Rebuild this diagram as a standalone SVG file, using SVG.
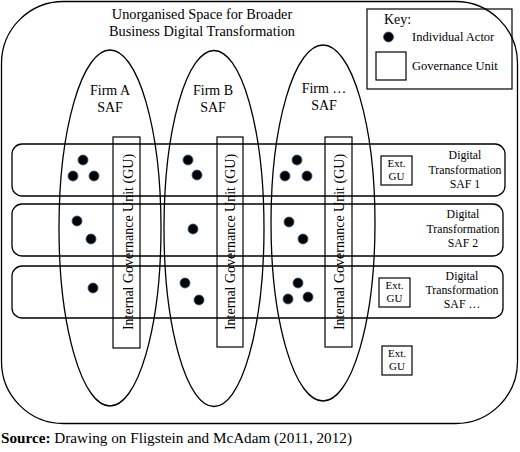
<svg xmlns="http://www.w3.org/2000/svg" width="520" height="452" viewBox="0 0 520 452">
<style>
  .ln{fill:none;stroke:#000;stroke-width:1.3}
  .bx{fill:none;stroke:#000;stroke-width:1.2}
  .t{font-family:"Liberation Serif","Times New Roman",serif;fill:#000}
  .dot{fill:#000;stroke:#2d5f8f;stroke-width:0.8}
</style>
<rect x="0" y="0" width="520" height="452" fill="#fff"/>
<g id="space">
  <rect class="ln" x="1.5" y="1.5" width="516" height="422" rx="62" ry="62"/>
  <text class="t" x="202" y="19" font-size="14.3" text-anchor="middle">Unorganised Space for Broader</text>
  <text class="t" x="202" y="36" font-size="14.3" text-anchor="middle">Business Digital Transformation</text>
</g>
<g id="key">
  <rect class="bx" x="367" y="9" width="145" height="80" fill="#fff"/>
  <text class="t" x="384" y="24" font-size="14">Key:</text>
  <circle class="dot" cx="388.5" cy="37" r="5"/>
  <text class="t" x="412" y="41" font-size="12.5">Individual Actor</text>
  <rect class="bx" x="376" y="52" width="30" height="28"/>
  <text class="t" x="412" y="70" font-size="12.5">Governance Unit</text>
</g>
<g id="firmA">
  <ellipse class="ln" cx="110" cy="228" rx="51" ry="178"/>
  <text class="t" x="110" y="95" font-size="14" text-anchor="middle">Firm A</text>
  <text class="t" x="110" y="112" font-size="14" text-anchor="middle">SAF</text>
  <rect class="bx" x="113" y="137" width="27" height="211"/>
  <text class="t" transform="translate(132.5,242) rotate(-90)" font-size="14" text-anchor="middle">Internal Governance Unit (GU)</text>
</g>
<g id="firmB">
  <ellipse class="ln" cx="214" cy="228.5" rx="50" ry="178"/>
  <text class="t" x="213" y="95" font-size="14" text-anchor="middle">Firm B</text>
  <text class="t" x="213" y="112" font-size="14" text-anchor="middle">SAF</text>
  <rect class="bx" x="217" y="137" width="26" height="210"/>
  <text class="t" transform="translate(235,242) rotate(-90)" font-size="14" text-anchor="middle">Internal Governance Unit (GU)</text>
</g>
<g id="firmC">
  <ellipse class="ln" cx="323" cy="223" rx="52" ry="178"/>
  <text class="t" x="324" y="93" font-size="14" text-anchor="middle">Firm …</text>
  <text class="t" x="324" y="110" font-size="14" text-anchor="middle">SAF</text>
  <rect class="bx" x="325" y="137" width="27" height="210"/>
  <text class="t" transform="translate(343.5,242) rotate(-90)" font-size="14" text-anchor="middle">Internal Governance Unit (GU)</text>
</g>
<g id="saf1">
  <rect class="ln" x="12" y="144" width="493" height="52" rx="10" ry="10"/>
  <rect class="bx" x="381" y="156" width="31" height="29"/>
  <text class="t" x="396.5" y="167" font-size="11" text-anchor="middle">Ext.</text>
  <text class="t" x="396.5" y="180" font-size="11" text-anchor="middle">GU</text>
  <text class="t" x="465" y="159" font-size="11.8" text-anchor="middle">Digital</text>
  <text class="t" x="465" y="174" font-size="11.8" text-anchor="middle">Transformation</text>
  <text class="t" x="465" y="188" font-size="11.8" text-anchor="middle">SAF 1</text>
</g>
<g id="saf2">
  <rect class="ln" x="12" y="204" width="491" height="52" rx="10" ry="10"/>
  <text class="t" x="463" y="218" font-size="11.8" text-anchor="middle">Digital</text>
  <text class="t" x="463" y="233" font-size="11.8" text-anchor="middle">Transformation</text>
  <text class="t" x="463" y="247" font-size="11.8" text-anchor="middle">SAF 2</text>
</g>
<g id="saf3">
  <rect class="ln" x="12" y="266" width="491" height="52" rx="10" ry="10"/>
  <rect class="bx" x="379" y="278" width="31" height="29"/>
  <text class="t" x="394.5" y="289" font-size="11" text-anchor="middle">Ext.</text>
  <text class="t" x="394.5" y="302" font-size="11" text-anchor="middle">GU</text>
  <text class="t" x="462" y="280" font-size="11.8" text-anchor="middle">Digital</text>
  <text class="t" x="462" y="294" font-size="11.8" text-anchor="middle">Transformation</text>
  <text class="t" x="462" y="308" font-size="11.8" text-anchor="middle">SAF …</text>
</g>
<g id="extGU">
  <rect class="bx" x="382" y="346" width="30" height="29"/>
  <text class="t" x="397" y="357" font-size="11" text-anchor="middle">Ext.</text>
  <text class="t" x="397" y="370" font-size="11" text-anchor="middle">GU</text>
</g>
<g id="actors">
  <circle class="dot" cx="83" cy="160" r="5"/>
  <circle class="dot" cx="73" cy="176" r="5"/>
  <circle class="dot" cx="94" cy="176" r="5"/>
  <circle class="dot" cx="188" cy="160" r="5"/>
  <circle class="dot" cx="197" cy="175" r="5"/>
  <circle class="dot" cx="297" cy="160" r="5"/>
  <circle class="dot" cx="285" cy="176" r="5"/>
  <circle class="dot" cx="307" cy="176" r="5"/>
  <circle class="dot" cx="77" cy="221" r="5"/>
  <circle class="dot" cx="91" cy="239" r="5"/>
  <circle class="dot" cx="193" cy="229" r="5"/>
  <circle class="dot" cx="289" cy="222" r="5"/>
  <circle class="dot" cx="303" cy="239" r="5"/>
  <circle class="dot" cx="93" cy="288" r="5"/>
  <circle class="dot" cx="185" cy="283" r="5"/>
  <circle class="dot" cx="199" cy="300" r="5"/>
  <circle class="dot" cx="298" cy="283" r="5"/>
  <circle class="dot" cx="288" cy="299" r="5"/>
  <circle class="dot" cx="308" cy="297" r="5"/>
</g>
<g id="connectors"></g>
<text class="t" x="1" y="443" font-size="15.2"><tspan font-weight="bold">Source:</tspan> Drawing on Fligstein and McAdam (2011, 2012)</text>
</svg>
